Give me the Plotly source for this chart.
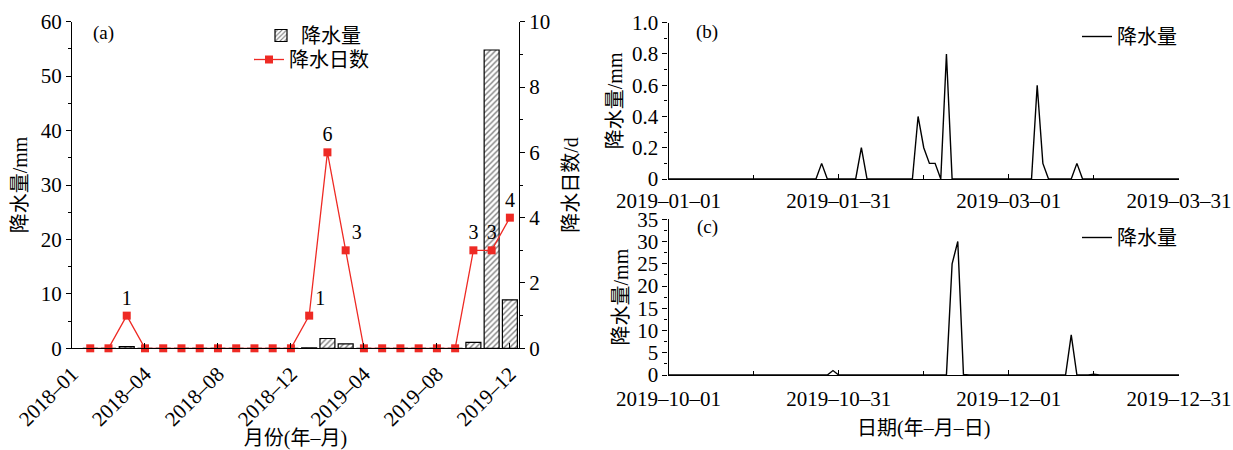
import plotly.graph_objects as go

# ---------------- data ----------------
# panel (a): monthly, index 1..24 = 2018-01 .. 2019-12
month_idx = list(range(1, 25))
rain_mm = [0, 0, 0.3, 0, 0, 0, 0, 0, 0, 0, 0, 0,
           0.1, 1.8, 0.8, 0, 0, 0, 0, 0, 0, 1.1, 54.8, 8.9]
rain_days = [0, 0, 1, 0, 0, 0, 0, 0, 0, 0, 0, 0,
             1, 6, 3, 0, 0, 0, 0, 0, 0, 3, 3, 4]
a_tickvals = [0, 4, 8, 12, 16, 20, 24]
a_ticktext = ["2018–01", "2018–04", "2018–08", "2018–12",
              "2019–04", "2019–08", "2019–12"]

# panel (b): daily precipitation 2019-01-01 .. 2019-03-31 (day index, mm)
b_day = [0, 26, 27, 28, 33, 34, 35, 43, 44, 45, 46, 47, 48, 49, 50,
         64, 65, 66, 67, 71, 72, 73, 90]
b_mm = [0, 0, 0.1, 0, 0, 0.2, 0, 0, 0.4, 0.2, 0.1, 0.1, 0, 0.8, 0,
        0, 0.6, 0.1, 0, 0, 0.1, 0, 0]
b_ticktext = ["2019–01–01", "2019–01–31", "2019–03–01", "2019–03–31"]

# panel (c): daily precipitation 2019-10-01 .. 2019-12-31 (day index, mm)
c_day = [0, 3, 4, 5, 28, 29, 30, 49, 50, 51, 52, 53,
         65, 66, 67, 68, 70, 71, 72, 74, 75, 76, 90]
c_mm = [0, 0, 0.1, 0, 0, 1.0, 0, 0, 25, 30, 0.1, 0,
        0, 0.1, 0.1, 0, 0, 9, 0, 0, 0.2, 0, 0]
c_ticktext = ["2019–10–01", "2019–10–31", "2019–12–01", "2019–12–31"]
bc_tickvals = [0, 30, 60, 90]
b_yvals = [0, 0.2, 0.4, 0.6, 0.8, 1.0]
b_ytext = ["0", "0.2", "0.4", "0.6", "0.8", "1.0"]

# ---------------- layout helpers ----------------
W, H = 1233, 450
FONT = "Liberation Serif, Noto Sans CJK SC, serif"
RED = "#ee2a24"


def fx(p):
    return p / W


def fy(p):
    return 1 - p / H


axis_common = dict(showline=True, linecolor="black", linewidth=1.3,
                   showgrid=False, zeroline=False, ticks="outside",
                   tickcolor="black", ticklen=5, tickwidth=1.2,
                   automargin=False,
                   tickfont=dict(family=FONT, size=21, color="black"))

fig = go.Figure()

fig.add_trace(go.Bar(
    x=month_idx, y=rain_mm, name="降水量", width=0.82, showlegend=True,
    marker=dict(color="white", line=dict(color="black", width=1.2),
                pattern=dict(shape="/", fgcolor="black", bgcolor="white",
                             size=4, solidity=0.35)),
    xaxis="x", yaxis="y", legend="legend"))

text_pos = {13: "top right", 15: "top right"}
fig.add_trace(go.Scatter(
    x=month_idx, y=rain_days, name="降水日数", mode="lines+markers+text",
    showlegend=True,
    text=[str(d) if d > 0 else "" for d in rain_days],
    textposition=[text_pos.get(m, "top center") for m in month_idx],
    textfont=dict(family=FONT, size=20, color="black"),
    line=dict(color=RED, width=1.3),
    marker=dict(symbol="square", size=8, color=RED),
    xaxis="x", yaxis="y2", legend="legend4", cliponaxis=False))

fig.add_trace(go.Scatter(
    x=b_day, y=b_mm, name="降水量", mode="lines", showlegend=True,
    line=dict(color="black", width=1.4),
    xaxis="x3", yaxis="y3", legend="legend2"))

fig.add_trace(go.Scatter(
    x=c_day, y=c_mm, name="降水量", mode="lines", showlegend=True,
    line=dict(color="black", width=1.4),
    xaxis="x4", yaxis="y4", legend="legend3"))

legend_common = dict(font=dict(family=FONT, size=20, color="black"),
                     bgcolor="rgba(0,0,0,0)", borderwidth=0,
                     xanchor="left", yanchor="top", tracegroupgap=0,
                     visible=True)

fig.update_layout(
    width=W, height=H,
    showlegend=True,
    margin=dict(l=0, r=0, t=0, b=0),
    paper_bgcolor="white", plot_bgcolor="white",
    font=dict(family=FONT, size=20, color="black"),
    bargap=0.2,
    legend=dict(x=fx(261), y=fy(16), **legend_common),
    legend4=dict(x=fx(249), y=fy(40), **legend_common),
    legend2=dict(x=fx(1077), y=fy(17), **legend_common),
    legend3=dict(x=fx(1077), y=fy(218), **legend_common),
    xaxis=dict(axis_common, domain=[fx(72), fx(519)], anchor="y",
               range=[0, 24.5], tickmode="array", tickvals=a_tickvals,
               ticktext=a_ticktext, tickangle=-45, ticks="inside",
               ticklabelstandoff=4,
               title=dict(text="月份(年–月)", standoff=6,
                          font=dict(family=FONT, size=20))),
    yaxis=dict(axis_common, domain=[fy(348.3), fy(21.7)], anchor="x",
               range=[0, 60], dtick=10,
               minor=dict(dtick=5, ticks="outside", ticklen=3,
                          tickcolor="black"),
               title=dict(text="降水量/mm", standoff=7,
                          font=dict(family=FONT, size=20))),
    yaxis2=dict(axis_common, overlaying="y", side="right", anchor="x",
                range=[0, 10], dtick=2,
                minor=dict(dtick=1, ticks="outside", ticklen=3,
                           tickcolor="black"),
                title=dict(text="降水日数/d", standoff=14,
                           font=dict(family=FONT, size=20))),
    xaxis3=dict(axis_common, domain=[fx(668.5), fx(1179)], anchor="y3",
                range=[0, 90], tickmode="array", tickvals=bc_tickvals,
                ticktext=b_ticktext, ticks="inside", ticklabelstandoff=3,
                minor=dict(tickmode="array", tickvals=[15, 45, 75],
                           ticks="inside", ticklen=4, tickcolor="black")),
    yaxis3=dict(axis_common, domain=[fy(179), fy(22.7)], anchor="x3",
                range=[0, 1.0], tickmode="array", tickvals=b_yvals,
                ticktext=b_ytext,
                minor=dict(dtick=0.1, ticks="outside", ticklen=3,
                           tickcolor="black"),
                title=dict(text="降水量/mm", standoff=3,
                           font=dict(family=FONT, size=20))),
    xaxis4=dict(axis_common, domain=[fx(668.5), fx(1179)], anchor="y4",
                range=[0, 90], tickmode="array", tickvals=bc_tickvals,
                ticktext=c_ticktext, ticks="inside", ticklabelstandoff=5,
                minor=dict(tickmode="array", tickvals=[15, 45, 75],
                           ticks="inside", ticklen=4, tickcolor="black"),
                title=dict(text="日期(年–月–日)", standoff=10,
                           font=dict(family=FONT, size=20))),
    yaxis4=dict(axis_common, domain=[fy(375), fy(219.3)], anchor="x4",
                range=[0, 35], dtick=5,
                minor=dict(dtick=2.5, ticks="outside", ticklen=3,
                           tickcolor="black"),
                title=dict(text="降水量/mm", standoff=3,
                           font=dict(family=FONT, size=20))),
    annotations=[
        dict(text="(a)", x=fx(103), y=fy(33), xref="paper", yref="paper",
             xanchor="center", yanchor="middle",
             showarrow=False, font=dict(family=FONT, size=19)),
        dict(text="(b)", x=fx(707), y=fy(32), xref="paper", yref="paper",
             xanchor="center", yanchor="middle",
             showarrow=False, font=dict(family=FONT, size=19)),
        dict(text="(c)", x=fx(707), y=fy(227), xref="paper", yref="paper",
             xanchor="center", yanchor="middle",
             showarrow=False, font=dict(family=FONT, size=19)),
    ],
)

fig.write_html("out.html", config={"displayModeBar": False},
               post_script="document.body.style.margin='0';")
